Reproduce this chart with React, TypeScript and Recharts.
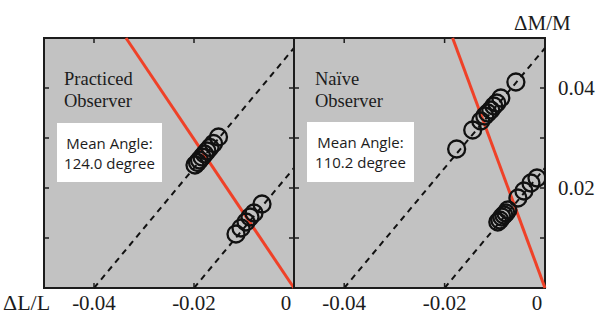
import {
  ReferenceArea,
  ReferenceLine,
  Scatter,
  ScatterChart,
  XAxis,
  YAxis,
} from 'recharts';

// axes
const xDomain = [-0.05, 0];
const yDomain = [0, 0.05];
const xTicks = [-0.04, -0.02, 0];
const yTicks = [0.01, 0.02, 0.03, 0.04];
const yLabelTicks = [0.02, 0.04];

// guide lines (iso-contrast lines), endpoints in data units
const dashedLow = [
  { x: -0.02, y: 0 },
  { x: 0, y: 0.024 },
];
const dashedHigh = [
  { x: -0.04, y: 0 },
  { x: 0, y: 0.048 },
];

// mean-angle lines
const practicedAngle = [
  { x: 0, y: 0 },
  { x: -0.0336, y: 0.05 },
];
const naiveAngle = [
  { x: 0, y: 0 },
  { x: -0.0184, y: 0.05 },
];

// thresholds, practiced observer
const practicedHighX = [-0.0198, -0.0193, -0.0189, -0.0184, -0.0179, -0.0174, -0.0168, -0.0161, -0.0151];
const practicedHighY = [0.0246, 0.0251, 0.0256, 0.0262, 0.0268, 0.0274, 0.0281, 0.0289, 0.0302];
const practicedLowX = [-0.0116, -0.0106, -0.0096, -0.0088, -0.008, -0.0064];
const practicedLowY = [0.0108, 0.012, 0.0132, 0.0142, 0.015, 0.0168];

// thresholds, naive observer
const naiveHighX = [-0.0176, -0.0144, -0.0128, -0.012, -0.0114, -0.0108, -0.0102, -0.0096, -0.0088, -0.0058];
const naiveHighY = [0.0278, 0.0316, 0.0334, 0.0344, 0.035, 0.0356, 0.0364, 0.037, 0.038, 0.0412];
const naiveLowX = [-0.0094, -0.009, -0.0086, -0.0082, -0.0078, -0.0074, -0.0054, -0.0042, -0.0028, -0.0016];
const naiveLowY = [0.0132, 0.0136, 0.0142, 0.0146, 0.015, 0.0156, 0.018, 0.0194, 0.021, 0.022];

const toPoints = (xs: number[], ys: number[]) => xs.map((x, i) => ({ x, y: ys[i] }));

const W = 599;
const H = 314;
const PLOT = 250;
const INK = '#1c1c1c';
const RED = '#ef4128';
const SERIF = '"Liberation Serif", "Times New Roman", serif';
const SANS = '"Open Sans", "Noto Sans", sans-serif';
const TICK = 5;
const LABEL_GAP = 5;

const Ring = (props: any) => (
  <circle cx={props.cx} cy={props.cy} r={8.5} fill="none" stroke="#111" strokeWidth={2.3} />
);

// horizontal inward tick marks at both ends of a full-width reference line
const HTickMarks = (props: any) => {
  const y = Number(props.y1);
  const left = Math.min(Number(props.x1), Number(props.x2));
  const right = Math.max(Number(props.x1), Number(props.x2));
  return (
    <g stroke={INK} strokeWidth={1.5}>
      <line x1={left} x2={left + TICK} y1={y} y2={y} />
      <line x1={right} x2={right - TICK} y1={y} y2={y} />
    </g>
  );
};

// x labels below the frame, plus inward marks on the bottom and top edges
const BottomTick = ({ x, y, payload }: any) => {
  const axisY = y - LABEL_GAP;
  const topY = axisY - PLOT;
  return (
    <g>
      {payload.value !== 0 ? (
        <g stroke={INK} strokeWidth={1.5}>
          <line x1={x} x2={x} y1={axisY} y2={axisY - TICK} />
          <line x1={x} x2={x} y1={topY} y2={topY + TICK} />
        </g>
      ) : null}
      <text
        x={x + (payload.value === 0 ? -8 : 0)}
        y={y}
        dy={17}
        textAnchor="middle"
        fontFamily={SERIF}
        fontSize={21}
        fill={INK}
      >
        {String(payload.value)}
      </text>
    </g>
  );
};

const RightTick = ({ x, y, payload, showLabel }: any) =>
  showLabel && yLabelTicks.includes(payload.value) ? (
    <text x={x + 13} y={y} dy={7} textAnchor="start" fontFamily={SERIF} fontSize={21} fill={INK}>
      {payload.value.toFixed(2)}
    </text>
  ) : (
    <g />
  );

type PanelProps = {
  margin: { top: number; left: number; right: number; bottom: number };
  rightWidth: number;
  showYLabels: boolean;
  angle: { x: number; y: number }[];
  high: { x: number; y: number }[];
  low: { x: number; y: number }[];
};

const Panel = ({ margin, rightWidth, showYLabels, angle, high, low }: PanelProps) => (
  <div style={{ position: 'absolute', left: 0, top: 0 }}>
    <ScatterChart width={W} height={H} margin={margin}>
      <XAxis
        type="number"
        dataKey="x"
        domain={xDomain}
        ticks={xTicks}
        allowDataOverflow
        height={26}
        axisLine={false}
        tickLine={false}
        tickSize={0}
        tickMargin={LABEL_GAP}
        tick={<BottomTick />}
        interval={0}
      />
      <YAxis
        orientation="right"
        type="number"
        dataKey="y"
        domain={yDomain}
        ticks={yTicks}
        allowDataOverflow
        width={rightWidth}
        axisLine={false}
        tickLine={false}
        tickSize={0}
        tickMargin={0}
        tick={<RightTick showLabel={showYLabels} />}
        interval={0}
      />
      <ReferenceArea
        x1={xDomain[0]}
        x2={xDomain[1]}
        y1={yDomain[0]}
        y2={yDomain[1]}
        fill="#c2c2c2"
        fillOpacity={1}
        stroke={INK}
        strokeWidth={2}
        ifOverflow="visible"
      />
      {yTicks.map(v => (
        <ReferenceLine key={`y${v}`} y={v} shape={<HTickMarks />} ifOverflow="visible" />
      ))}
      <ReferenceLine segment={dashedHigh} stroke="#111" strokeWidth={2} strokeDasharray="6 5" ifOverflow="visible" />
      <ReferenceLine segment={dashedLow} stroke="#111" strokeWidth={2} strokeDasharray="6 5" ifOverflow="visible" />
      <Scatter data={high} shape={<Ring />} isAnimationActive={false} />
      <Scatter data={low} shape={<Ring />} isAnimationActive={false} />
      <ReferenceLine segment={angle} stroke={RED} strokeWidth={3} ifOverflow="visible" />
    </ScatterChart>
  </div>
);

const InfoBox = ({ x, y, w, h, angle }: { x: number; y: number; w: number; h: number; angle: string }) => (
  <g>
    <rect x={x} y={y} width={w} height={h} fill="#ffffff" />
    <text x={x + w / 2} y={y + 26} textAnchor="middle" fontFamily={SANS} fontSize={15} fill={INK}>
      Mean Angle:
    </text>
    <text x={x + w / 2} y={y + 46} textAnchor="middle" fontFamily={SANS} fontSize={15} fill={INK}>
      {angle} degree
    </text>
  </g>
);

export default function App() {
  return (
    <div style={{ position: 'absolute', left: 0, top: 0, width: W, height: H, background: '#ffffff' }}>
      <Panel
        margin={{ top: 38, left: 44, right: 304, bottom: 0 }}
        rightWidth={1}
        showYLabels={false}
        angle={practicedAngle}
        high={toPoints(practicedHighX, practicedHighY)}
        low={toPoints(practicedLowX, practicedLowY)}
      />
      <Panel
        margin={{ top: 38, left: 294, right: 0, bottom: 0 }}
        rightWidth={54}
        showYLabels
        angle={naiveAngle}
        high={toPoints(naiveHighX, naiveHighY)}
        low={toPoints(naiveLowX, naiveLowY)}
      />
      <svg width={W} height={H} style={{ position: 'absolute', left: 0, top: 0, pointerEvents: 'none' }}>
        <text x={64} y={85} fontFamily={SERIF} fontSize={18.5} fill={INK}>Practiced</text>
        <text x={64} y={107} fontFamily={SERIF} fontSize={18.5} fill={INK}>Observer</text>
        <text x={315} y={85} fontFamily={SERIF} fontSize={18.5} fill={INK}>Naïve</text>
        <text x={315} y={107} fontFamily={SERIF} fontSize={18.5} fill={INK}>Observer</text>
        <InfoBox x={57} y={123} w={105} h={59} angle="124.0" />
        <InfoBox x={307} y={122} w={107} h={60} angle="110.2" />
        <text x={3} y={310} fontFamily={SERIF} fontSize={22} fill={INK}>ΔL/L</text>
        <text x={514} y={30} fontFamily={SERIF} fontSize={21} fill={INK}>ΔM/M</text>
      </svg>
    </div>
  );
}
